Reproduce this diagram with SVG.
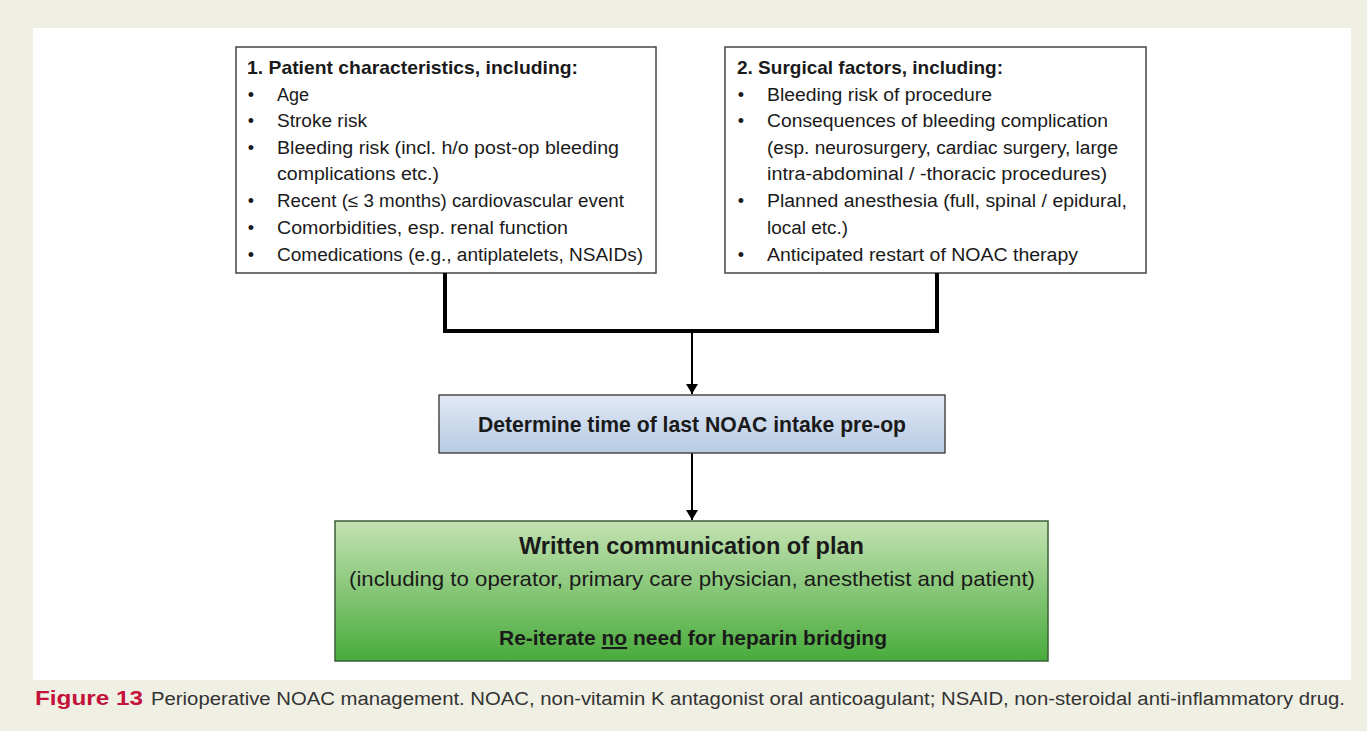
<svg xmlns="http://www.w3.org/2000/svg" width="1367" height="731" viewBox="0 0 1367 731">
<style>
.t{font-family:"Liberation Sans",Arial,sans-serif;fill:#1a1a1a}
.b{font-weight:bold}
.box{fill:#fff;stroke:#444;stroke-width:1.5}
.thick{fill:none;stroke:#000;stroke-width:4}
.thin{fill:none;stroke:#000;stroke-width:2}
</style>
<defs>
<linearGradient id="gBlue" x1="0" y1="0" x2="0" y2="1">
<stop offset="0" stop-color="#e1e9f5"/>
<stop offset="1" stop-color="#b7cbe3"/>
</linearGradient>
<linearGradient id="gGreen" x1="0" y1="0" x2="0" y2="1">
<stop offset="0" stop-color="#c4e2b3"/>
<stop offset="1" stop-color="#48ab3b"/>
</linearGradient>
<marker id="arr" markerUnits="userSpaceOnUse" markerWidth="12" markerHeight="12" refX="10" refY="6" orient="auto">
<path d="M0,0 L10,6 L0,12 Z" fill="#000"/>
</marker>
</defs>
<rect x="0" y="0" width="1367" height="731" fill="#f0efe4"/>
<rect x="33" y="28" width="1318" height="652" fill="#ffffff"/>

<g id="node-patient">
<rect class="box" x="236" y="47" width="420" height="226"/>
<text class="t b" x="247" y="74" font-size="19" textLength="331" lengthAdjust="spacingAndGlyphs">1. Patient characteristics, including:</text>
<g class="t" font-size="18">
<text x="251" y="101" text-anchor="middle">•</text>
<text x="251" y="127" text-anchor="middle">•</text>
<text x="251" y="154" text-anchor="middle">•</text>
<text x="251" y="207" text-anchor="middle">•</text>
<text x="251" y="234" text-anchor="middle">•</text>
<text x="251" y="261" text-anchor="middle">•</text>
<text x="277" y="101" textLength="32" lengthAdjust="spacingAndGlyphs">Age</text>
<text x="277" y="127" textLength="90" lengthAdjust="spacingAndGlyphs">Stroke risk</text>
<text x="277" y="154" textLength="342" lengthAdjust="spacingAndGlyphs">Bleeding risk (incl. h/o post-op bleeding</text>
<text x="277" y="180" textLength="162" lengthAdjust="spacingAndGlyphs">complications etc.)</text>
<text x="277" y="207" textLength="347" lengthAdjust="spacingAndGlyphs">Recent (≤ 3 months) cardiovascular event</text>
<text x="277" y="234" textLength="291" lengthAdjust="spacingAndGlyphs">Comorbidities, esp. renal function</text>
<text x="277" y="261" textLength="366" lengthAdjust="spacingAndGlyphs">Comedications (e.g., antiplatelets, NSAIDs)</text>
</g>
</g>

<g id="node-surgical">
<rect class="box" x="725" y="47" width="421" height="226"/>
<text class="t b" x="737" y="74" font-size="19" textLength="266" lengthAdjust="spacingAndGlyphs">2. Surgical factors, including:</text>
<g class="t" font-size="18">
<text x="741" y="101" text-anchor="middle">•</text>
<text x="741" y="127" text-anchor="middle">•</text>
<text x="741" y="207" text-anchor="middle">•</text>
<text x="741" y="261" text-anchor="middle">•</text>
<text x="767" y="101" textLength="225" lengthAdjust="spacingAndGlyphs">Bleeding risk of procedure</text>
<text x="767" y="127" textLength="341" lengthAdjust="spacingAndGlyphs">Consequences of bleeding complication</text>
<text x="767" y="154" textLength="351" lengthAdjust="spacingAndGlyphs">(esp. neurosurgery, cardiac surgery, large</text>
<text x="767" y="180" textLength="340" lengthAdjust="spacingAndGlyphs">intra-abdominal / -thoracic procedures)</text>
<text x="767" y="207" textLength="360" lengthAdjust="spacingAndGlyphs">Planned anesthesia (full, spinal / epidural,</text>
<text x="767" y="234" textLength="81" lengthAdjust="spacingAndGlyphs">local etc.)</text>
<text x="767" y="261" textLength="311" lengthAdjust="spacingAndGlyphs">Anticipated restart of NOAC therapy</text>
</g>
</g>

<g id="connectors">
<path class="thick" d="M445,273 V331 H937 V273"/>
<path class="thin" d="M692,331 V394" marker-end="url(#arr)"/>
<path class="thin" d="M692,453 V520" marker-end="url(#arr)"/>
</g>

<g id="node-determine">
<rect x="439" y="395" width="506" height="58" fill="url(#gBlue)" stroke="#4a4a4a" stroke-width="1.5"/>
<text class="t b" x="478" y="432" font-size="22" textLength="428" lengthAdjust="spacingAndGlyphs">Determine time of last NOAC intake pre-op</text>
</g>

<g id="node-written">
<rect x="335" y="521" width="713" height="140" fill="url(#gGreen)" stroke="#3d5f38" stroke-width="1.5"/>
<text class="t b" x="519" y="554" font-size="24" textLength="345" lengthAdjust="spacingAndGlyphs">Written communication of plan</text>
<text class="t" x="349" y="586" font-size="21" textLength="686" lengthAdjust="spacingAndGlyphs">(including to operator, primary care physician, anesthetist and patient)</text>
<text class="t b" x="499" y="645" font-size="21" textLength="388" lengthAdjust="spacingAndGlyphs">Re-iterate <tspan text-decoration="underline">no</tspan> need for heparin bridging</text>
</g>

<g id="caption">
<text x="35" y="705" font-family="Liberation Sans, Arial, sans-serif" font-size="20" font-weight="bold" fill="#c4123a" textLength="108" lengthAdjust="spacingAndGlyphs">Figure 13</text>
<text x="151" y="705" font-family="Liberation Sans, Arial, sans-serif" font-size="18" fill="#333" textLength="1194" lengthAdjust="spacingAndGlyphs">Perioperative NOAC management. NOAC, non-vitamin K antagonist oral anticoagulant; NSAID, non-steroidal anti-inflammatory drug.</text>
</g>
</svg>
